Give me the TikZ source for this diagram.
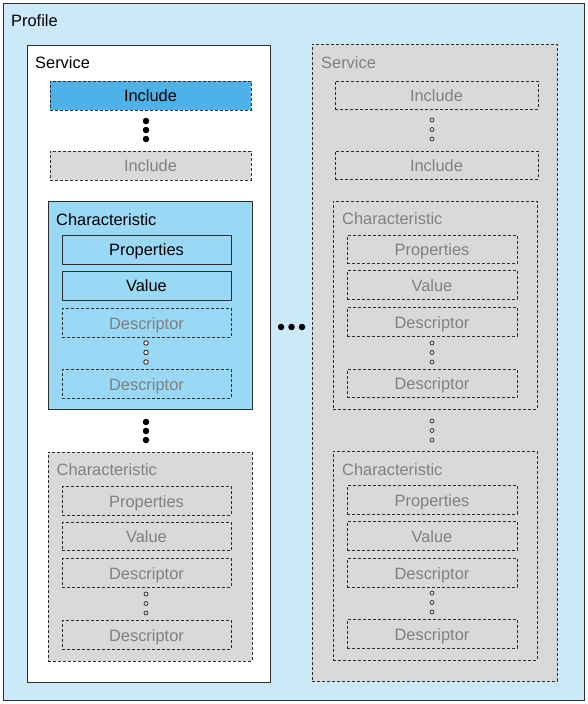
\documentclass[tikz,border=0pt]{standalone}
\usepackage{fontspec}
\setmainfont{Liberation Sans}
\definecolor{profbg}{RGB}{204,233,250}
\definecolor{inclblue}{RGB}{78,178,232}
\definecolor{charblue}{RGB}{153,217,245}
\definecolor{greyfill}{RGB}{217,217,217}
\definecolor{greytext}{RGB}{128,128,128}
\definecolor{edge}{RGB}{45,45,45}
\tikzset{
  base/.style={rectangle, draw=edge, line width=0.9pt, inner sep=0pt, font=\fontsize{16.4}{19}\selectfont, text height=12pt, text depth=0pt},
  dsh/.style={dash pattern=on 3pt off 2pt},
  profilebox/.style={base, fill=profbg},
  servicebox/.style={base, fill=white},
  servicegrey/.style={base, dsh, fill=greyfill},
  inclblue/.style={base, dsh, fill=inclblue, text=black, minimum width=201pt, minimum height=29pt},
  inclgrey/.style={base, dsh, fill=greyfill, text=greytext, minimum width=201pt, minimum height=29pt},
  charbox/.style={base, fill=charblue, minimum width=204pt},
  chargrey/.style={base, dsh, fill=greyfill, minimum width=204pt},
  itemblue/.style={base, text=black, minimum width=169pt, minimum height=29pt},
  itemgrey/.style={base, dsh, text=greytext, minimum width=169pt, minimum height=28.5pt},
  lbl/.style={anchor=base west, inner sep=0pt, font=\fontsize{16.4}{19}\selectfont},
  bigdot/.style={circle, fill=black, inner sep=0pt, minimum size=6.5pt},
  wdot/.style={circle, draw=edge, fill=white, line width=0.9pt, inner sep=0pt, minimum size=4.5pt},
  gdot/.style={circle, draw=edge, line width=0.7pt, inner sep=0pt, minimum size=4pt},
}
\begin{document}
\begin{tikzpicture}[x=1pt,y=-1pt]
\useasboundingbox (0,0) rectangle (588,704);
% profile
\node[profilebox, minimum width=581pt, minimum height=697pt] (profile) at (293.5,351.5) {};
\node[lbl] (profilelbl) at (11,27) {Profile};
% left service
\node[servicebox, minimum width=243pt, minimum height=637pt] (svcL) at (148.5,363.5) {};
\node[lbl] (svcLlbl) at (35,68) {Service};
\node[inclblue] (incL1) at (150.5,95.5) {Include};
\node[bigdot] (dL1) at (146,121) {};
\node[bigdot] (dL2) at (146,130) {};
\node[bigdot] (dL3) at (146,139) {};
\node[inclgrey] (incL2) at (150.5,165.5) {Include};
% left characteristic (blue)
\node[charbox, minimum height=208pt] (chL1) at (150,305) {};
\node[lbl] (chL1lbl) at (56,225) {Characteristic};
\node[itemblue] (propL1) at (146.5,249.5) {Properties};
\node[itemblue] (valL1) at (146.5,285.5) {Value};
\node[itemgrey] (descL1a) at (146.5,323) {Descriptor};
\node[wdot] (wd1) at (146,343) {};
\node[wdot] (wd2) at (146,352.5) {};
\node[wdot] (wd3) at (146,362) {};
\node[itemgrey] (descL1b) at (146.5,384) {Descriptor};
\node[bigdot] (dL4) at (146,422) {};
\node[bigdot] (dL5) at (146,431) {};
\node[bigdot] (dL6) at (146,440) {};
% left characteristic (grey)
\node[chargrey, minimum height=209pt] (chL2) at (150,556.5) {};
\node[lbl, text=greytext] (chL2lbl) at (56.5,475) {Characteristic};
\node[itemgrey] (propL2) at (146.5,501) {Properties};
\node[itemgrey] (valL2) at (146.5,536.5) {Value};
\node[itemgrey] (descL2a) at (146.5,573) {Descriptor};
\node[gdot] (gd1) at (146,594) {};
\node[gdot] (gd2) at (146,603.5) {};
\node[gdot] (gd3) at (146,613) {};
\node[itemgrey] (descL2b) at (146.5,635) {Descriptor};
% horizontal ellipsis
\node[bigdot] (hd1) at (281,327) {};
\node[bigdot] (hd2) at (291.5,327) {};
\node[bigdot] (hd3) at (302,327) {};
% right service
\node[servicegrey, minimum width=245pt, minimum height=637pt] (svcR) at (434.5,362.5) {};
\node[lbl, text=greytext] (svcRlbl) at (321,68) {Service};
\node[inclgrey, minimum width=203pt, minimum height=28pt] (incR1) at (436.5,95) {Include};
\node[gdot] (gr1) at (432,120) {};
\node[gdot] (gr2) at (432,129.5) {};
\node[gdot] (gr3) at (432,139) {};
\node[inclgrey, minimum width=203pt, minimum height=28pt] (incR2) at (436.5,165) {Include};
% right characteristic 1
\node[chargrey, minimum height=208pt] (chR1) at (435,305) {};
\node[lbl, text=greytext] (chR1lbl) at (342,224) {Characteristic};
\node[itemgrey, minimum width=170pt] (propR1) at (432,249.5) {Properties};
\node[itemgrey, minimum width=170pt] (valR1) at (432,285) {Value};
\node[itemgrey, minimum width=170pt] (descR1a) at (432,322) {Descriptor};
\node[gdot] (gr4) at (432,343) {};
\node[gdot] (gr5) at (432,352.5) {};
\node[gdot] (gr6) at (432,362) {};
\node[itemgrey, minimum width=170pt] (descR1b) at (432,383.5) {Descriptor};
\node[gdot] (gr7) at (432,421) {};
\node[gdot] (gr8) at (432,430.5) {};
\node[gdot] (gr9) at (432,440) {};
% right characteristic 2
\node[chargrey, minimum height=209pt] (chR2) at (435,555.5) {};
\node[lbl, text=greytext] (chR2lbl) at (342,475) {Characteristic};
\node[itemgrey, minimum width=170pt] (propR2) at (432,500) {Properties};
\node[itemgrey, minimum width=170pt] (valR2) at (432,536) {Value};
\node[itemgrey, minimum width=170pt] (descR2a) at (432,573) {Descriptor};
\node[gdot] (gr10) at (432,593) {};
\node[gdot] (gr11) at (432,602.5) {};
\node[gdot] (gr12) at (432,612) {};
\node[itemgrey, minimum width=170pt] (descR2b) at (432,634) {Descriptor};
\end{tikzpicture}
\end{document}
